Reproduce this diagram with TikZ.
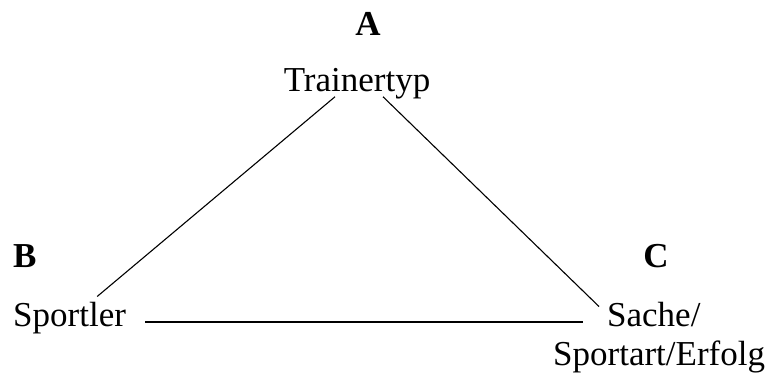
\documentclass[tikz,border=0pt]{standalone}
\usepackage{fontspec}
\setmainfont{Liberation Serif}
\usetikzlibrary{positioning}
\tikzset{
    corner/.style={font=\fontsize{35}{40}\bfseries\selectfont,inner sep=0pt},
    role/.style={font=\fontsize{35}{40}\selectfont,inner sep=0pt},
    side/.style={line width=1.1pt}
}
\begin{document}
\begin{tikzpicture}[x=1pt,y=1pt]
    \useasboundingbox (0,0) rectangle (768,374);
    % corners of the triangle
    \node[corner,anchor=base] (A) at (368,338) {A};
    \node[role,anchor=base] (trainer) at (357,282) {Trainertyp};
    \node[corner,anchor=base west] (B) at (13,106) {B};
    \node[role,anchor=base west] (sportler) at (13,47) {Sportler};
    \node[corner,anchor=base] (C) at (656,106) {C};
    \node[role,anchor=base west] (sache) at (607,47) {Sache/};
    \node[role,anchor=base west] (sportart) at (553,8) {Sportart/Erfolg};

    \draw[side] ([shift={(-22,3)}]trainer.south) -- ([shift={(-29,6)}]sportler.north east);
    \draw[side] ([shift={(26,3)}]trainer.south) -- ([shift={(-8,-4)}]sache.north west);
    \draw[side] ([shift={(19,5)}]sportler.base east) -- ([shift={(-24,5)}]sache.base west);
\end{tikzpicture}
\end{document}
